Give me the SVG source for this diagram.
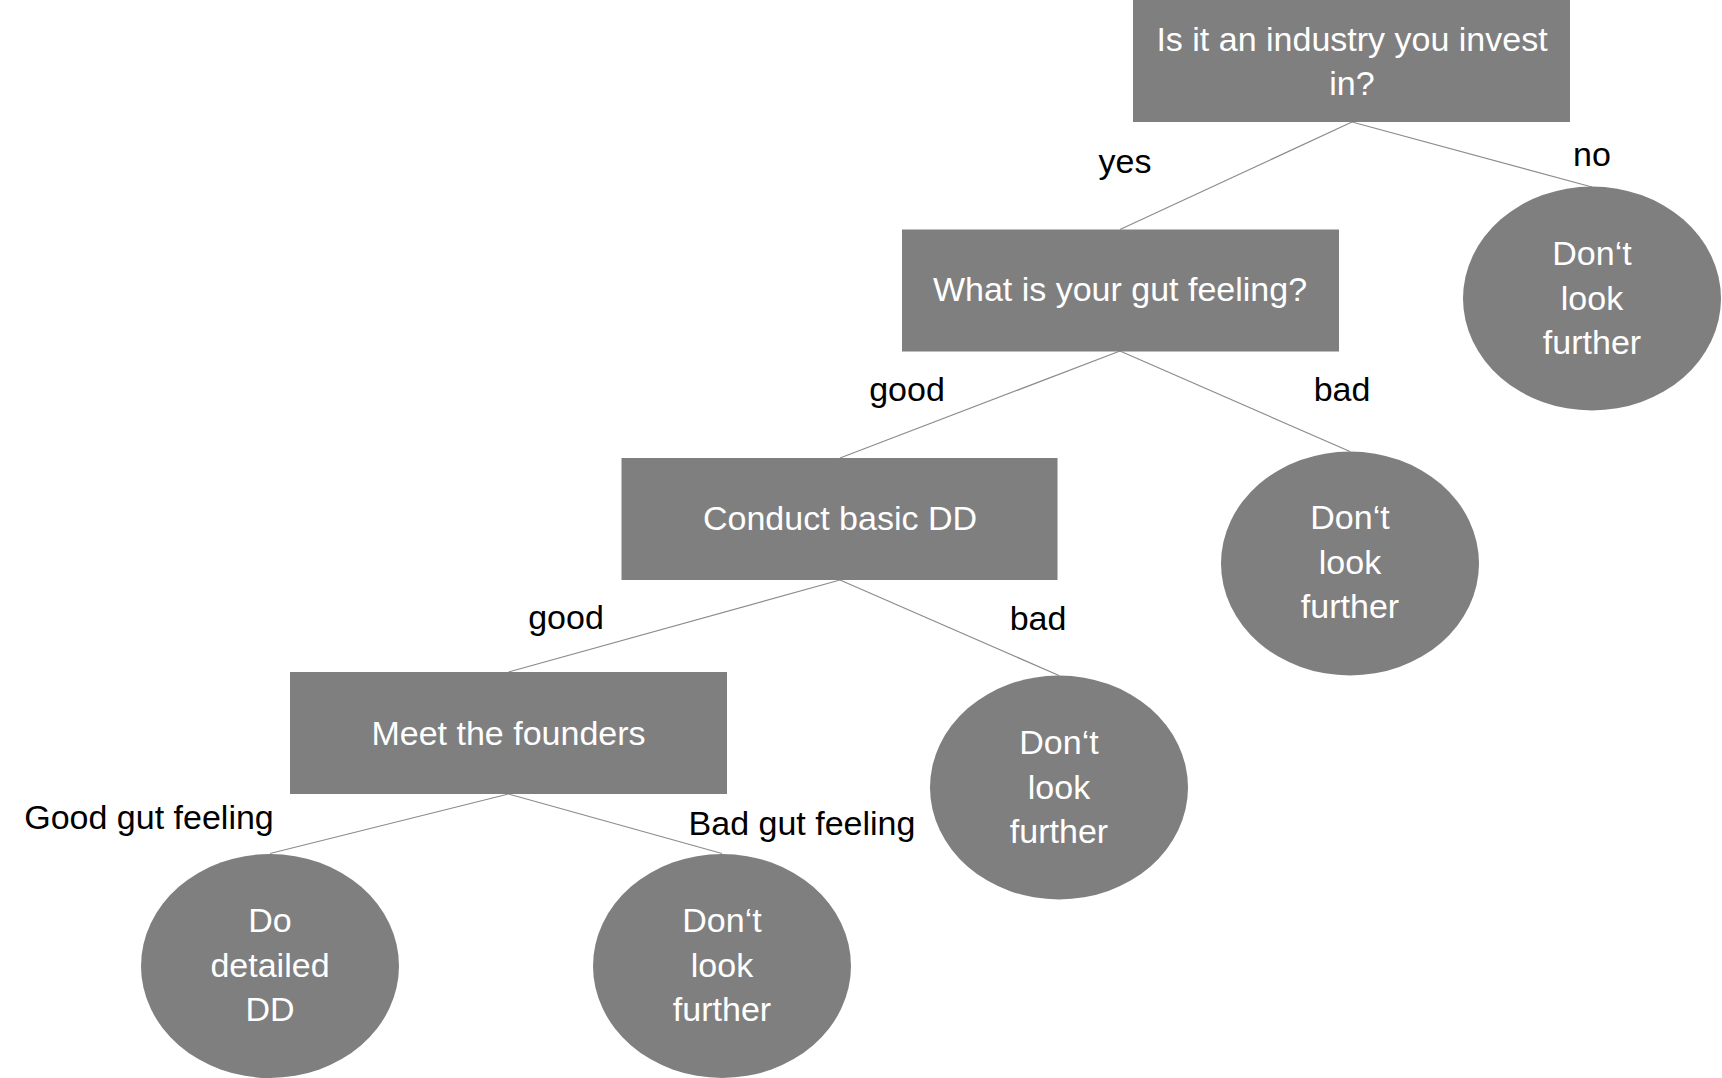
<svg xmlns="http://www.w3.org/2000/svg" width="1722" height="1078" viewBox="0 0 1722 1078">
<style>
.box{fill:#7f7f7f}
.ell{fill:#7f7f7f}
.t{font-family:"Liberation Sans",Arial,sans-serif;font-size:34px;fill:#ffffff;text-anchor:middle}
.lbl{font-family:"Liberation Sans",Arial,sans-serif;font-size:34px;fill:#000000;text-anchor:middle}
.edge{stroke:#8c8c8c;stroke-width:1.2;fill:none}
</style>
<rect width="1722" height="1078" fill="#ffffff"/>
<g id="connectors">
<line class="edge" x1="1352" y1="122" x2="1120" y2="229.5"/>
<line class="edge" x1="1352" y1="122" x2="1592" y2="187"/>
<line class="edge" x1="1120" y1="351" x2="840" y2="458"/>
<line class="edge" x1="1120" y1="351" x2="1350" y2="451.5"/>
<line class="edge" x1="840" y1="580" x2="508.5" y2="672"/>
<line class="edge" x1="840" y1="580" x2="1059" y2="675.5"/>
<line class="edge" x1="508.5" y1="794" x2="270" y2="853.5"/>
<line class="edge" x1="508.5" y1="794" x2="722" y2="853.5"/>
<text class="lbl" x="1125" y="173">yes</text>
<text class="lbl" x="1592" y="166">no</text>
<text class="lbl" x="907" y="401">good</text>
<text class="lbl" x="1342" y="401">bad</text>
<text class="lbl" x="566" y="629">good</text>
<text class="lbl" x="1038" y="630">bad</text>
<text class="lbl" x="149" y="829">Good gut feeling</text>
<text class="lbl" x="802" y="835">Bad gut feeling</text>
</g>
<g id="q-industry">
<rect class="box" x="1133" y="0" width="437" height="122"/>
<text class="t" x="1352" y="51">Is it an industry you invest</text>
<text class="t" x="1352" y="95">in?</text>
</g>
<g id="q-gut">
<rect class="box" x="902" y="229.5" width="437" height="122"/>
<text class="t" x="1120" y="301">What is your gut feeling?</text>
</g>
<g id="basic-dd">
<rect class="box" x="621.5" y="458" width="436" height="122"/>
<text class="t" x="840" y="530">Conduct basic DD</text>
</g>
<g id="meet-founders">
<rect class="box" x="290" y="672" width="437" height="122"/>
<text class="t" x="508.5" y="745">Meet the founders</text>
</g>
<g id="stop-industry">
<ellipse class="ell" cx="1592" cy="298.5" rx="129" ry="112"/>
<text class="t" x="1592" y="265">Don‘t</text>
<text class="t" x="1592" y="310">look</text>
<text class="t" x="1592" y="354">further</text>
</g>
<g id="stop-gut">
<ellipse class="ell" cx="1350" cy="563.5" rx="129" ry="112"/>
<text class="t" x="1350" y="529">Don‘t</text>
<text class="t" x="1350" y="574">look</text>
<text class="t" x="1350" y="618">further</text>
</g>
<g id="stop-basic">
<ellipse class="ell" cx="1059" cy="787.5" rx="129" ry="112"/>
<text class="t" x="1059" y="754">Don‘t</text>
<text class="t" x="1059" y="799">look</text>
<text class="t" x="1059" y="843">further</text>
</g>
<g id="detailed-dd">
<ellipse class="ell" cx="270" cy="966" rx="129" ry="112"/>
<text class="t" x="270" y="932">Do</text>
<text class="t" x="270" y="977">detailed</text>
<text class="t" x="270" y="1021">DD</text>
</g>
<g id="stop-founders">
<ellipse class="ell" cx="722" cy="966" rx="129" ry="112"/>
<text class="t" x="722" y="932">Don‘t</text>
<text class="t" x="722" y="977">look</text>
<text class="t" x="722" y="1021">further</text>
</g>
</svg>
